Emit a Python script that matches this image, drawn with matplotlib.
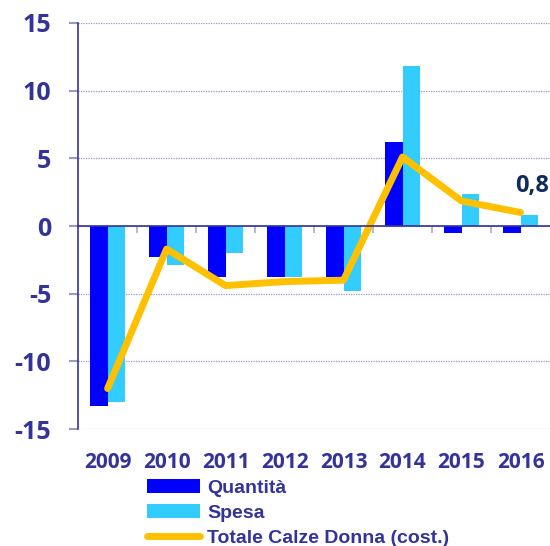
import matplotlib
matplotlib.use("Agg")
import matplotlib.pyplot as plt
import numpy as np

# data
years = ["2009", "2010", "2011", "2012", "2013", "2014", "2015", "2016"]
quantita = [-13.3, -2.3, -3.8, -3.8, -3.8, 6.2, -0.55, -0.55]
spesa = [-13.0, -2.85, -2.0, -3.8, -4.8, 11.8, 2.4, 0.8]
totale = [-12.0, -1.7, -4.4, -4.1, -4.0, 5.1, 1.85, 1.0]
last_label = "0,8"
yticks = [-15, -10, -5, 0, 5, 10, 15]

navy = "#333399"
c_q = "#0000FF"
c_s = "#33CCFF"
c_t = "#FFC000"
tick_font = ["Open Sans", "DejaVu Sans"]

fig = plt.figure(figsize=(5.5, 5.46), dpi=100)
ax = fig.add_axes([0.142, 0.214, 0.858, 0.744])

x = np.arange(len(years))
w = 0.29
b1 = ax.bar(x - w / 2, quantita, w, color=c_q, label="Quantità", zorder=2)
b2 = ax.bar(x + w / 2, spesa, w, color=c_s, label="Spesa", zorder=2)
l1, = ax.plot(x, totale, color=c_t, lw=5, solid_capstyle="round", solid_joinstyle="round",
              label="Totale Calze Donna (cost.)", zorder=3)

ax.annotate(last_label, (x[-1], totale[-1]), xytext=(8, 19), textcoords="offset points",
            ha="center", va="center", fontsize=17, fontweight="bold", color="#0D2B5E",
            family=tick_font)

ax.set_xlim(-0.5, len(years) - 0.5)
ax.set_ylim(-15, 15)
ax.set_yticks(yticks)
ax.set_yticklabels([str(v) for v in yticks], fontsize=18, fontweight="bold", color=navy,
                   family=tick_font)
ax.tick_params(axis="y", length=6.5, width=1.5, color="#9999CC", pad=13)
ax.yaxis.grid(True, linestyle=(0, (1, 1)), color="#9999CC", lw=0.9, zorder=0)
ax.set_axisbelow(True)

# zero line with category-boundary ticks
ax.spines["bottom"].set_position(("data", 0))
ax.spines["bottom"].set_color(navy)
ax.spines["bottom"].set_linewidth(1.2)
ax.spines["bottom"].set_zorder(4)
ax.set_xticks(np.arange(0.5, len(years) - 0.5, 1))
ax.set_xticklabels([])
ax.tick_params(axis="x", length=5, width=1.2, color="#AAAACC", direction="out")
ax.spines["left"].set_color(navy)
ax.spines["left"].set_linewidth(1.2)
ax.spines["top"].set_visible(False)
ax.spines["right"].set_visible(False)

for i, yr in enumerate(years):
    ax.text(i, -0.081, yr, transform=ax.get_xaxis_transform(), ha="center", va="center",
            fontsize=15, fontweight="bold", color=navy, family=tick_font)

fig.legend(handles=[b1, b2, l1], loc="upper left", bbox_to_anchor=(147 / 550, 1 - 479 / 546),
           frameon=False, borderpad=0, borderaxespad=0, handlelength=2.7, handletextpad=0.4,
           labelspacing=0.38, prop={"family": "Liberation Sans", "weight": "bold", "size": 14},
           labelcolor=navy)

fig.savefig("out.png", dpi=100)
